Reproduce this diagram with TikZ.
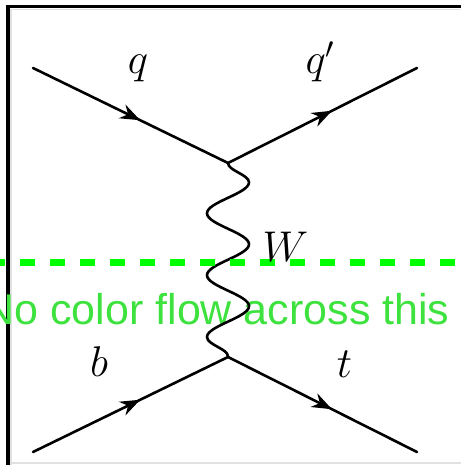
\documentclass[tikz,border=0pt]{standalone}
\usepackage{fix-cm}
\usepackage{fontspec}
\newfontfamily\notefont{Liberation Sans}
\usetikzlibrary{arrows.meta,decorations.pathmorphing,decorations.markings}
\begin{document}
\begin{tikzpicture}[x=1pt,y=1pt,line width=2.6pt]
\definecolor{cutgreen}{RGB}{0,255,0}
\definecolor{notegreen}{RGB}{62,226,62}
\definecolor{edgegrey}{RGB}{225,225,225}
\providecommand{\flab}{\fontsize{43}{48}\selectfont}
\tikzset{fermion/.style={draw=black,line cap=round,postaction={decorate},decoration={markings,mark=at position 0.55 with {\arrow{Stealth[length=20pt,width=15pt]}}}},boson/.style={draw=black,decorate,decoration={snake,amplitude=21pt,segment length=61.9pt}},cutline/.style={draw=cutgreen,line width=7pt,dash pattern=on 15pt off 15pt,dash phase=10pt},plabel/.style={anchor=base,inner sep=0pt,font=\flab}}
\useasboundingbox (0,0) rectangle (461,465);
\clip (0,0) rectangle (461,465);
% frame
\draw[edgegrey,line width=1.5pt] (11,0) -- (11,455.5) -- (461,455.5);
\draw[edgegrey,line width=2pt] (12,2) -- (461,2);
\draw[line width=3.6pt] (8,0) -- (8,458.5) -- (461,458.5);
\node[anchor=base,inner sep=0pt,font=\notefont\fontsize{43}{48}\selectfont,text=notegreen] (note) at (216.5,140) {No color flow across this};
% vertices and external legs
\coordinate (qin) at (33,397);
\coordinate (qout) at (417,397);
\coordinate (vtop) at (228,302);
\coordinate (vbot) at (228,108);
\coordinate (bin) at (33,13);
\coordinate (tout) at (417,13);
\draw[fermion] (qin) -- (vtop);
\draw[fermion] (vtop) -- (qout);
\draw[fermion] (bin) -- (vbot);
\draw[fermion] (vbot) -- (tout);
\draw[boson] (vtop) -- (vbot);
% cut
\coordinate (cutl) at (0,202.5);
\coordinate (cutr) at (461,202.5);
\draw[cutline] (cutl) -- (cutr);
\node[plabel] (lq) at (138,391.3) {$q$};
\node[plabel] (lqp) at (320,391.3) {$q'$};
\node[plabel] (lW) at (285.5,203) {$W$};
\node[plabel] (lb) at (99,88) {$b$};
\node[plabel] (lt) at (344.5,87) {$t$};
\end{tikzpicture}
\end{document}
